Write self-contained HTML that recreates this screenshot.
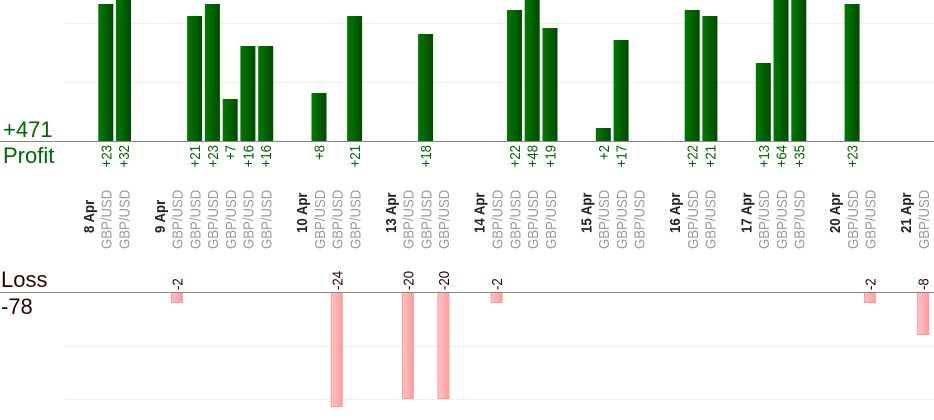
<!DOCTYPE html>
<html><head><meta charset="utf-8"><style>
html,body{margin:0;padding:0;background:#fff;}
svg{display:block;font-family:"Liberation Sans",sans-serif;}
.v{fill:#006600;font-size:15px}
.g{fill:#999;font-size:15px}
.d{fill:#222;font-size:15px;font-weight:bold}
.l{fill:#330000;font-size:15px}
</style></head><body>
<svg width="934" height="420" viewBox="0 0 934 420">
<defs>
<linearGradient id="gp" x1="0" x2="1" y1="0" y2="0"><stop offset="0" stop-color="#007a00"/><stop offset="1" stop-color="#004a00"/></linearGradient>
<linearGradient id="lp" x1="0" x2="1" y1="0" y2="0"><stop offset="0" stop-color="#ffc4c4"/><stop offset="1" stop-color="#ff9c9c"/></linearGradient>
</defs>
<g stroke="#eee" stroke-width="1">
<line x1="65" y1="23.5" x2="934" y2="23.5"/><line x1="65" y1="82.5" x2="934" y2="82.5"/>
<line x1="65" y1="346.5" x2="934" y2="346.5"/><line x1="65" y1="399.5" x2="934" y2="399.5"/>
</g>
<g fill="url(#gp)">
<rect x="98.3" y="4" width="15" height="137"/>
<rect x="116" y="0" width="15" height="141"/>
<rect x="187.1" y="16" width="15" height="125"/>
<rect x="204.9" y="4" width="15" height="137"/>
<rect x="222.7" y="99" width="15" height="42"/>
<rect x="240.4" y="46" width="15" height="95"/>
<rect x="258.2" y="46" width="15" height="95"/>
<rect x="311.5" y="93" width="15" height="48"/>
<rect x="347.1" y="16" width="15" height="125"/>
<rect x="418.1" y="34" width="15" height="107"/>
<rect x="507" y="10" width="15" height="131"/>
<rect x="524.7" y="0" width="15" height="141"/>
<rect x="542.5" y="28" width="15" height="113"/>
<rect x="595.8" y="128" width="15" height="13"/>
<rect x="613.6" y="40" width="15" height="101"/>
<rect x="684.7" y="10" width="15" height="131"/>
<rect x="702.4" y="16" width="15" height="125"/>
<rect x="755.8" y="63" width="15" height="78"/>
<rect x="773.5" y="0" width="15" height="141"/>
<rect x="791.3" y="0" width="15" height="141"/>
<rect x="844.6" y="4" width="15" height="137"/>
</g>
<g fill="url(#lp)" stroke="#ff9a9a" stroke-width="1">
<rect x="171.4" y="292.5" width="11" height="10"/>
<rect x="331.3" y="292.5" width="11" height="114"/>
<rect x="402.4" y="292.5" width="11" height="106"/>
<rect x="437.9" y="292.5" width="11" height="106"/>
<rect x="491.2" y="292.5" width="11" height="10"/>
<rect x="864.4" y="292.5" width="11" height="10"/>
<rect x="917.7" y="292.5" width="11" height="42"/>
</g>
<line x1="0" y1="141.5" x2="934" y2="141.5" stroke="#888"/>
<line x1="0" y1="292.5" x2="934" y2="292.5" stroke="#888"/>
<text x="3" y="137" style="fill:#006600;font-size:22px">+471</text>
<text x="3" y="163" style="fill:#006600;font-size:22px">Profit</text>
<text x="1" y="287" style="fill:#330000;font-size:22px">Loss</text>
<text x="1" y="314" style="fill:#330000;font-size:22px">-78</text>
<g class="v" text-anchor="end">
<text transform="translate(111.3,145) rotate(-90) scale(0.88,1)">+23</text>
<text transform="translate(129,145) rotate(-90) scale(0.88,1)">+32</text>
<text transform="translate(200.1,145) rotate(-90) scale(0.88,1)">+21</text>
<text transform="translate(217.9,145) rotate(-90) scale(0.88,1)">+23</text>
<text transform="translate(235.7,145) rotate(-90) scale(0.88,1)">+7</text>
<text transform="translate(253.4,145) rotate(-90) scale(0.88,1)">+16</text>
<text transform="translate(271.2,145) rotate(-90) scale(0.88,1)">+16</text>
<text transform="translate(324.5,145) rotate(-90) scale(0.88,1)">+8</text>
<text transform="translate(360.1,145) rotate(-90) scale(0.88,1)">+21</text>
<text transform="translate(431.1,145) rotate(-90) scale(0.88,1)">+18</text>
<text transform="translate(520,145) rotate(-90) scale(0.88,1)">+22</text>
<text transform="translate(537.7,145) rotate(-90) scale(0.88,1)">+48</text>
<text transform="translate(555.5,145) rotate(-90) scale(0.88,1)">+19</text>
<text transform="translate(608.8,145) rotate(-90) scale(0.88,1)">+2</text>
<text transform="translate(626.6,145) rotate(-90) scale(0.88,1)">+17</text>
<text transform="translate(697.7,145) rotate(-90) scale(0.88,1)">+22</text>
<text transform="translate(715.4,145) rotate(-90) scale(0.88,1)">+21</text>
<text transform="translate(768.8,145) rotate(-90) scale(0.88,1)">+13</text>
<text transform="translate(786.5,145) rotate(-90) scale(0.88,1)">+64</text>
<text transform="translate(804.3,145) rotate(-90) scale(0.88,1)">+35</text>
<text transform="translate(857.6,145) rotate(-90) scale(0.88,1)">+23</text>
</g>
<g class="l">
<text transform="translate(182.4,290) rotate(-90) scale(0.88,1)">-2</text>
<text transform="translate(342.3,290) rotate(-90) scale(0.88,1)">-24</text>
<text transform="translate(413.4,290) rotate(-90) scale(0.88,1)">-20</text>
<text transform="translate(448.9,290) rotate(-90) scale(0.88,1)">-20</text>
<text transform="translate(502.2,290) rotate(-90) scale(0.88,1)">-2</text>
<text transform="translate(875.4,290) rotate(-90) scale(0.88,1)">-2</text>
<text transform="translate(928.7,290) rotate(-90) scale(0.88,1)">-8</text>
</g>
<g class="d">
<text transform="translate(93.8,233) rotate(-90) scale(0.88,1)">8 Apr</text>
<text transform="translate(164.9,233) rotate(-90) scale(0.88,1)">9 Apr</text>
<text transform="translate(307,233) rotate(-90) scale(0.88,1)">10 Apr</text>
<text transform="translate(395.9,233) rotate(-90) scale(0.88,1)">13 Apr</text>
<text transform="translate(484.7,233) rotate(-90) scale(0.88,1)">14 Apr</text>
<text transform="translate(591.4,233) rotate(-90) scale(0.88,1)">15 Apr</text>
<text transform="translate(680.2,233) rotate(-90) scale(0.88,1)">16 Apr</text>
<text transform="translate(751.3,233) rotate(-90) scale(0.88,1)">17 Apr</text>
<text transform="translate(840.1,233) rotate(-90) scale(0.88,1)">20 Apr</text>
<text transform="translate(911.2,233) rotate(-90) scale(0.88,1)">21 Apr</text>
</g>
<g class="g">
<text transform="translate(111.6,249) rotate(-90) scale(0.88,1)">GBP/USD</text>
<text transform="translate(129.3,249) rotate(-90) scale(0.88,1)">GBP/USD</text>
<text transform="translate(182.7,249) rotate(-90) scale(0.88,1)">GBP/USD</text>
<text transform="translate(200.4,249) rotate(-90) scale(0.88,1)">GBP/USD</text>
<text transform="translate(218.2,249) rotate(-90) scale(0.88,1)">GBP/USD</text>
<text transform="translate(236,249) rotate(-90) scale(0.88,1)">GBP/USD</text>
<text transform="translate(253.7,249) rotate(-90) scale(0.88,1)">GBP/USD</text>
<text transform="translate(271.5,249) rotate(-90) scale(0.88,1)">GBP/USD</text>
<text transform="translate(324.8,249) rotate(-90) scale(0.88,1)">GBP/USD</text>
<text transform="translate(342.6,249) rotate(-90) scale(0.88,1)">GBP/USD</text>
<text transform="translate(360.4,249) rotate(-90) scale(0.88,1)">GBP/USD</text>
<text transform="translate(413.7,249) rotate(-90) scale(0.88,1)">GBP/USD</text>
<text transform="translate(431.4,249) rotate(-90) scale(0.88,1)">GBP/USD</text>
<text transform="translate(449.2,249) rotate(-90) scale(0.88,1)">GBP/USD</text>
<text transform="translate(502.5,249) rotate(-90) scale(0.88,1)">GBP/USD</text>
<text transform="translate(520.3,249) rotate(-90) scale(0.88,1)">GBP/USD</text>
<text transform="translate(538,249) rotate(-90) scale(0.88,1)">GBP/USD</text>
<text transform="translate(555.8,249) rotate(-90) scale(0.88,1)">GBP/USD</text>
<text transform="translate(609.1,249) rotate(-90) scale(0.88,1)">GBP/USD</text>
<text transform="translate(626.9,249) rotate(-90) scale(0.88,1)">GBP/USD</text>
<text transform="translate(644.7,249) rotate(-90) scale(0.88,1)">GBP/USD</text>
<text transform="translate(698,249) rotate(-90) scale(0.88,1)">GBP/USD</text>
<text transform="translate(715.7,249) rotate(-90) scale(0.88,1)">GBP/USD</text>
<text transform="translate(769.1,249) rotate(-90) scale(0.88,1)">GBP/USD</text>
<text transform="translate(786.8,249) rotate(-90) scale(0.88,1)">GBP/USD</text>
<text transform="translate(804.6,249) rotate(-90) scale(0.88,1)">GBP/USD</text>
<text transform="translate(857.9,249) rotate(-90) scale(0.88,1)">GBP/USD</text>
<text transform="translate(875.7,249) rotate(-90) scale(0.88,1)">GBP/USD</text>
<text transform="translate(929,249) rotate(-90) scale(0.88,1)">GBP/USD</text>
</g>
</svg>
</body></html>
